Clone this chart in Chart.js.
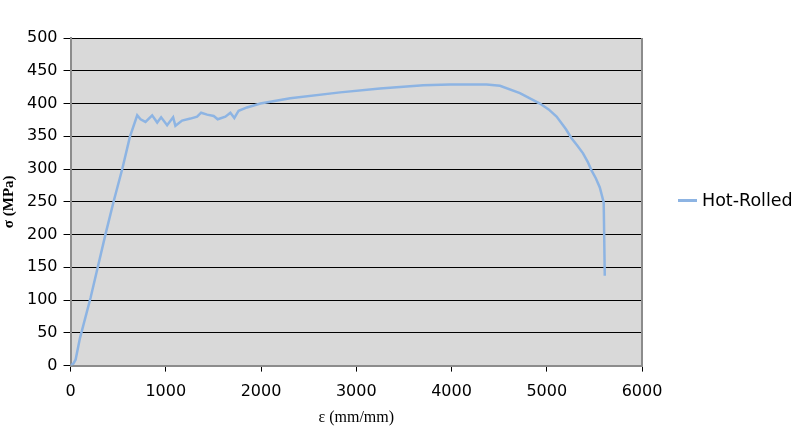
<!DOCTYPE html>
<html>
<head>
<meta charset="utf-8">
<script src="https://cdn.jsdelivr.net/npm/chart.js@4.4.1/dist/chart.umd.min.js"></script>
<style>
  html, body { margin: 0; padding: 0; background: #fff; }
  #wrap { width: 800px; height: 439px; position: relative; }
  #legend { position: absolute; left: 678px; top: 190px; font: 17.5px "DejaVu Sans", sans-serif; color: #000; white-space: nowrap; }
  #legend .swatch { display: inline-block; width: 19px; height: 3px; background: #8db4e3; vertical-align: middle; margin-right: 5px; position: relative; top: -1px; }
</style>
</head>
<body>
<div id="wrap">
  <canvas id="chart"></canvas>
  <div id="legend"><span class="swatch"></span><span id="legendText"></span></div>
</div>
<script>
// strain (x) and stress (y)
const strain = [0, 30, 53, 99, 211, 368, 455, 543, 623, 700, 735, 787, 857, 910, 951, 1014, 1077, 1101, 1171, 1259, 1329, 1371, 1434, 1503, 1545, 1626, 1678, 1720, 1765, 1853, 1993, 2307, 2831, 3250, 3704, 3984, 4369, 4509, 4718, 4928, 5020, 5103, 5200, 5260, 5320, 5381, 5430, 5470, 5515, 5557, 5598, 5609];
const stress = [0, 3, 9, 42, 104, 201, 252, 300, 349, 382, 376, 372, 382, 371, 379, 367, 379, 366, 374, 377, 380, 386, 383, 381, 376, 380, 386, 378, 389, 394, 400, 408, 417, 423, 428, 429, 429, 427, 416, 400, 391, 380, 361, 347, 336, 324, 311, 298, 286, 272, 249, 137];
const seriesName = 'Hot-Rolled';
const xTicks = [0, 1000, 2000, 3000, 4000, 5000, 6000];
const yTicks = [0, 50, 100, 150, 200, 250, 300, 350, 400, 450, 500];

const points = strain.map((x, i) => ({ x: x, y: stress[i] }));
document.getElementById('legendText').textContent = seriesName;

// grey plot area with a thin border, like the spreadsheet chart
const plotBg = {
    id: 'plotBg',
    beforeDraw(chart) {
        const { ctx, chartArea: a } = chart;
        ctx.save();
        ctx.fillStyle = '#d9d9d9';
        ctx.fillRect(a.left, a.top, a.right - a.left, a.bottom - a.top);
        ctx.restore();
    },
    afterDraw(chart) {
        const { ctx, chartArea: a } = chart;
        ctx.save();
        ctx.strokeStyle = '#8c8c8c';
        ctx.lineWidth = 2;
        ctx.beginPath();
        ctx.moveTo(a.right, a.top);
        ctx.lineTo(a.right, a.bottom);
        ctx.stroke();
        ctx.restore();
    }
};

new Chart(document.getElementById('chart'), {
    type: 'line',
    data: {
        datasets: [{
            label: seriesName,
            data: points,
            borderColor: '#8db4e3',
            backgroundColor: '#8db4e3',
            borderWidth: 2.5,
            pointRadius: 0,
            tension: 0,
            fill: false
        }]
    },
    options: {
        responsive: true,
        maintainAspectRatio: false,
        animation: false,
        layout: { padding: { top: 38, bottom: 12, left: 0, right: 158 } },
        plugins: {
            tooltip: { enabled: false },
            legend: { display: false }
        },
        scales: {
            x: {
                type: 'linear',
                min: 0,
                max: 6000,
                afterBuildTicks: (axis) => { axis.ticks = xTicks.map(v => ({ value: v })); },
                grid: { drawOnChartArea: false, color: '#000', tickLength: 6 },
                border: { color: '#8c8c8c', width: 2 },
                ticks: { color: '#000', font: { family: 'DejaVu Sans', size: 16 }, maxRotation: 0, padding: 11, callback: (v) => String(v) },
                title: {
                    display: true,
                    text: 'ε (mm/mm)',
                    color: '#000',
                    font: { family: 'Liberation Serif', size: 16 },
                    padding: { top: -5, bottom: 0 }
                }
            },
            y: {
                min: 0,
                max: 500,
                afterBuildTicks: (axis) => { axis.ticks = yTicks.map(v => ({ value: v })); },
                grid: { color: '#000', lineWidth: 1, tickLength: 7 },
                border: { color: '#8c8c8c', width: 2 },
                ticks: { color: '#000', font: { family: 'DejaVu Sans', size: 16 }, padding: 6, callback: (v) => String(v) },
                title: {
                    display: true,
                    text: 'σ (MPa)',
                    color: '#000',
                    font: { family: 'Liberation Serif', size: 15, weight: 'bold' },
                    padding: { top: 0, bottom: 3 }
                }
            }
        }
    },
    plugins: [plotBg]
});
</script>
</body>
</html>
